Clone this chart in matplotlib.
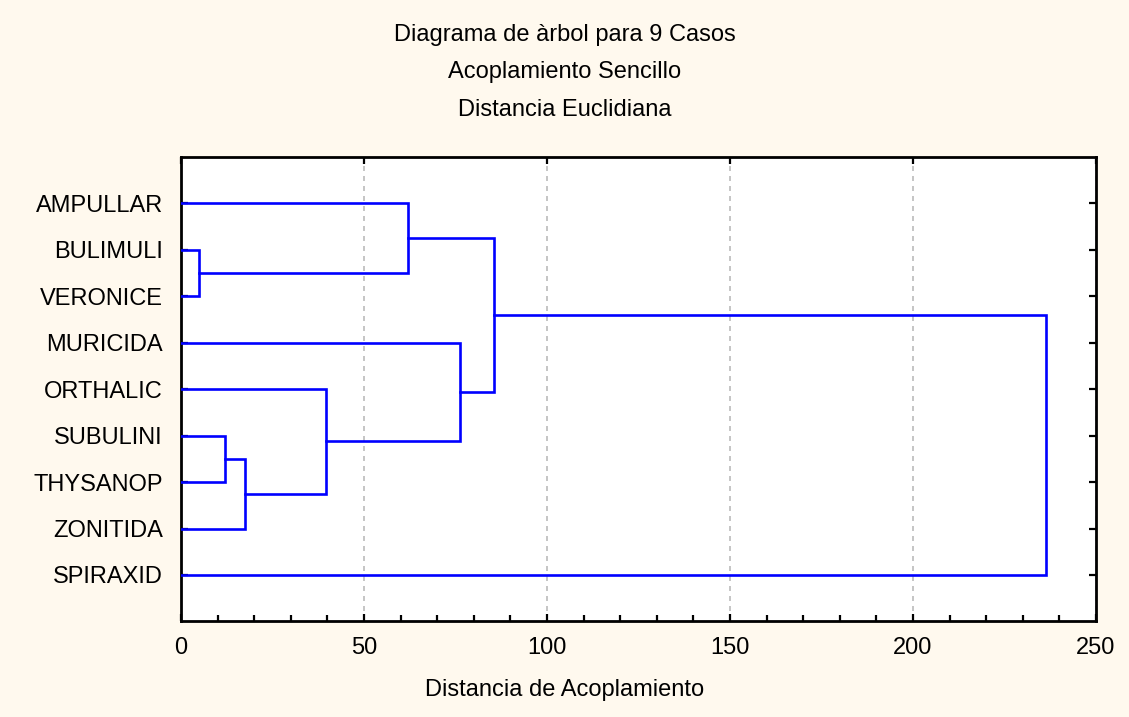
import numpy as np
import matplotlib.pyplot as plt
from matplotlib.ticker import MultipleLocator

plt.rcParams['font.family'] = ['Liberation Sans', 'DejaVu Sans']

# leaves, top to bottom
labels = ['AMPULLAR', 'BULIMULI', 'VERONICE', 'MURICIDA', 'ORTHALIC',
          'SUBULINI', 'THYSANOP', 'ZONITIDA', 'SPIRAXID']

# merges: new cluster id = 9 + row index
merge_a = [1, 5, 10, 4, 0, 3, 13, 15]
merge_b = [2, 6, 7, 11, 9, 12, 14, 8]
merge_h = [5.0, 12.0, 17.5, 39.6, 61.9, 76.3, 85.6, 236.3]

xticks = [0, 50, 100, 150, 200, 250]

BG = '#FFF9EE'
BLUE = '#0000FF'
FS = 17

fig = plt.figure(figsize=(11.29, 7.17), dpi=100, facecolor=BG)
ax = fig.add_axes([0.1603, 0.1332, 0.8105, 0.6485])
ax.set_facecolor('white')

# cluster position (y) and height (x)
pos = {i: i + 1 for i in range(len(labels))}
hgt = {i: 0.0 for i in range(len(labels))}

for k in range(len(merge_h)):
    a, b, h = merge_a[k], merge_b[k], merge_h[k]
    ya, yb = pos[a], pos[b]
    ax.plot([hgt[a], h, h, hgt[b]], [ya, ya, yb, yb], color=BLUE, lw=1.9,
            solid_joinstyle='miter', zorder=3)
    new = len(labels) + k
    pos[new] = (ya + yb) / 2
    hgt[new] = h

ax.set_xlim(0, 250)
ax.set_ylim(10, 0)

ax.set_xticks(xticks)
ax.xaxis.set_minor_locator(MultipleLocator(10))
ax.set_yticks(range(1, len(labels) + 1))
ax.set_yticklabels(labels)

ax.tick_params(axis='both', which='both', direction='in', labelsize=FS,
               width=1.6, color='black')
ax.tick_params(axis='x', which='major', length=5, pad=11, top=True)
ax.tick_params(axis='x', which='minor', length=4, top=False)
ax.tick_params(axis='y', which='major', length=5, pad=13, right=True)

for s in ax.spines.values():
    s.set_linewidth(2.0)
    s.set_color('black')

ax.grid(axis='x', which='major', color='#BBBBBB', ls=(0, (3, 3)), lw=1.2)
ax.set_axisbelow(True)

fig.text(0.5, 1 - 35 / 717, 'Diagrama de àrbol para 9 Casos', ha='center',
         va='center', fontsize=FS)
fig.text(0.5, 1 - 72 / 717, 'Acoplamiento Sencillo', ha='center',
         va='center', fontsize=FS)
fig.text(0.5, 1 - 110 / 717, 'Distancia Euclidiana', ha='center',
         va='center', fontsize=FS)
fig.text(0.5, 1 - 690 / 717, 'Distancia de Acoplamiento', ha='center',
         va='center', fontsize=FS)

fig.savefig('out.png', dpi=100, facecolor=BG)
